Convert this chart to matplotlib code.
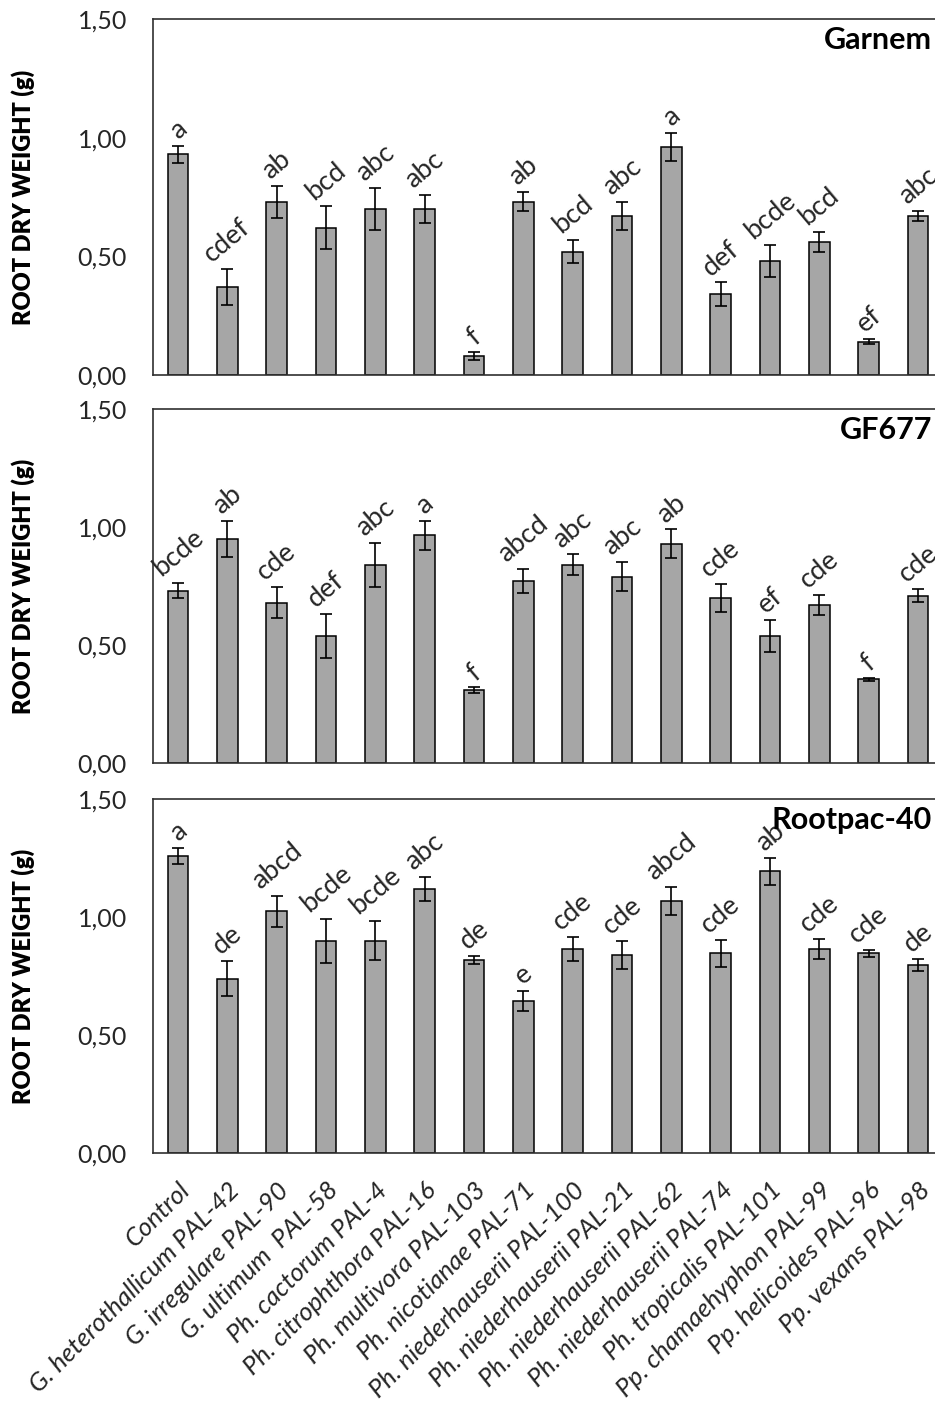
import matplotlib
matplotlib.use("Agg")
import matplotlib.pyplot as plt
import numpy as np

plt.rcParams['font.family'] = ['Lato', 'DejaVu Sans']

categories = ["Control", "G. heterothallicum PAL-42", "G. irregulare PAL-90",
              "G. ultimum  PAL-58", "Ph. cactorum PAL-4", "Ph. citrophthora PAL-16",
              "Ph. multivora PAL-103", "Ph. nicotianae PAL-71",
              "Ph. niederhauserii PAL-100", "Ph. niederhauserii PAL-21",
              "Ph. niederhauserii PAL-62", "Ph. niederhauserii PAL-74",
              "Ph. tropicalis PAL-101", "Pp. chamaehyphon PAL-99",
              "Pp. helicoides PAL-96", "Pp. vexans PAL-98"]

garnem_mean = [0.93, 0.37, 0.73, 0.62, 0.70, 0.70, 0.08, 0.73, 0.52, 0.67,
               0.96, 0.34, 0.48, 0.56, 0.14, 0.67]
garnem_err = [0.035, 0.076, 0.067, 0.09, 0.09, 0.06, 0.018, 0.04, 0.05, 0.06,
              0.06, 0.05, 0.066, 0.042, 0.01, 0.02]
garnem_letters = ["a", "cdef", "ab", "bcd", "abc", "abc", "f", "ab", "bcd", "abc",
                  "a", "def", "bcde", "bcd", "ef", "abc"]

gf677_mean = [0.73, 0.95, 0.68, 0.54, 0.84, 0.965, 0.31, 0.77, 0.84, 0.79,
              0.93, 0.70, 0.54, 0.67, 0.355, 0.71]
gf677_err = [0.032, 0.076, 0.066, 0.093, 0.092, 0.06, 0.011, 0.051, 0.044, 0.061,
             0.06, 0.06, 0.068, 0.044, 0.008, 0.027]
gf677_letters = ["bcde", "ab", "cde", "def", "abc", "a", "f", "abcd", "abc", "abc",
                 "ab", "cde", "ef", "cde", "f", "cde"]

rootpac_mean = [1.26, 0.74, 1.025, 0.90, 0.90, 1.12, 0.82, 0.645, 0.865, 0.84,
                1.067, 0.847, 1.194, 0.864, 0.847, 0.796]
rootpac_err = [0.034, 0.075, 0.066, 0.093, 0.082, 0.05, 0.017, 0.042, 0.05, 0.058,
               0.059, 0.057, 0.057, 0.042, 0.014, 0.025]
rootpac_letters = ["a", "de", "abcd", "bcde", "bcde", "abc", "de", "e", "cde", "cde",
                   "abcd", "cde", "ab", "cde", "cde", "de"]

panel_names = ["Garnem", "GF677", "Rootpac-40"]
yticks = [0.0, 0.5, 1.0, 1.5]
ytick_labels = ["0,00", "0,50", "1,00", "1,50"]

W, H = 935, 1405
fig = plt.figure(figsize=(W / 100, H / 100), dpi=100)

left = 153.35 / W
width = 789.3 / W
panels_px = [(19, 375), (409, 763.3), (799, 1153.3)]

data = [(garnem_mean, garnem_err, garnem_letters),
        (gf677_mean, gf677_err, gf677_letters),
        (rootpac_mean, rootpac_err, rootpac_letters)]

x = np.arange(len(categories))
text_col = '#262626'
for i, ((top, bot), (m, e, lets), name) in enumerate(zip(panels_px, data, panel_names)):
    ax = fig.add_axes([left, 1 - bot / H, width, (bot - top) / H])
    ax.bar(x, m, width=0.42, color='#A6A6A6', edgecolor='black', linewidth=1.1,
           yerr=e, error_kw=dict(ecolor='black', elinewidth=1.2, capsize=4.5,
                                 capthick=1.2), zorder=2)
    for xi, mi, ei, li in zip(x, m, e, lets):
        ax.annotate(li, (xi, mi + ei), xytext=(0, 1.5), textcoords='offset points',
                    rotation=40, ha='center', va='bottom', fontsize=19.5,
                    color=text_col)
    ax.set_xlim(-0.5, len(categories) - 0.5)
    ax.set_ylim(0, 1.5)
    ax.set_yticks(yticks)
    ax.set_yticklabels(ytick_labels, fontsize=18, color=text_col)
    ax.tick_params(axis='y', length=0, pad=19)
    for s in ['left', 'top', 'bottom']:
        ax.spines[s].set_linewidth(1.2)
        ax.spines[s].set_color('#303030')
    ax.spines['right'].set_visible(False)
    ax.set_ylabel("ROOT DRY WEIGHT (g)", fontsize=17, fontweight='heavy',
                  color='black')
    ax.yaxis.set_label_coords(-0.150, 0.5)
    ax.text(0.9865, 0.941, name, transform=ax.transAxes, ha='right', va='center',
            fontsize=22, fontweight='bold', color='black')
    ax.set_xticks(x)
    if i < 2:
        ax.set_xticklabels([])
        ax.tick_params(axis='x', length=0)
    else:
        ax.set_xticklabels(categories, rotation=45, ha='right', rotation_mode='anchor',
                           fontsize=18.5, fontstyle='italic', color=text_col)
        ax.tick_params(axis='x', length=0, pad=18)

fig.savefig("out.png", dpi=100)
